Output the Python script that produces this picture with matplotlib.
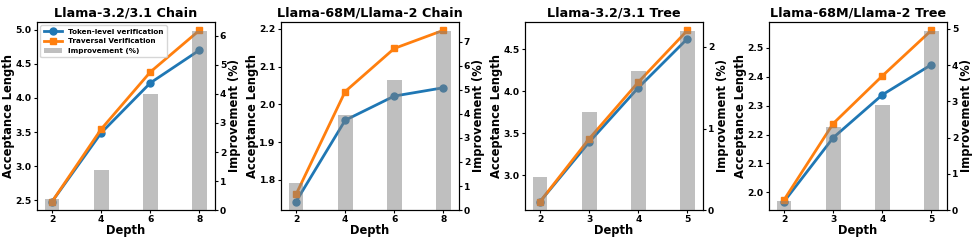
import matplotlib
matplotlib.use("Agg")
import matplotlib.pyplot as plt
from matplotlib.ticker import MultipleLocator
import numpy as np

# === DATA ===
titles = ["Llama-3.2/3.1 Chain", "Llama-68M/Llama-2 Chain",
          "Llama-3.2/3.1 Tree", "Llama-68M/Llama-2 Tree"]
depths = [[2, 4, 6, 8], [2, 4, 6, 8], [2, 3, 4, 5], [2, 3, 4, 5]]

token_level = [
    [2.485, 3.49, 4.22, 4.70],
    [1.743, 1.958, 2.022, 2.044],
    [2.69, 3.397, 4.044, 4.627],
    [1.968, 2.189, 2.3375, 2.442],
]
traversal = [
    [2.485, 3.545, 4.38, 4.99],
    [1.762, 2.034, 2.148, 2.196],
    [2.69, 3.437, 4.11, 4.726],
    [1.974, 2.238, 2.403, 2.561],
]
improvement = [
    [0.38, 1.38, 3.99, 6.18],
    [1.14, 3.96, 5.40, 7.46],
    [0.40, 1.20, 1.70, 2.20],
    [0.25, 2.29, 2.89, 4.95],
]

# tick spacing for left axis of each panel
left_step = [0.5, 0.1, 0.5, 0.1]

# === PLOT ===
fig = plt.figure(figsize=(9.77, 2.44), dpi=100)
lefts = [0.0375, 0.2872, 0.537, 0.7867]
TICK_FS = 6.6
LABEL_FS = 8.3

for i in range(4):
    ax = fig.add_axes([lefts[i], 0.139, 0.1825, 0.772])
    x = np.arange(len(depths[i]))
    l1, = ax.plot(x, token_level[i], color="#1f77b4", marker="o", markersize=5,
                  linewidth=2, label="Token-level verification")
    l2, = ax.plot(x, traversal[i], color="#ff7f0e", marker="s", markersize=5,
                  linewidth=2, label="Traversal Verification")
    ax.set_xticks(x)
    ax.set_xticklabels([str(d) for d in depths[i]])
    ax.yaxis.set_major_locator(MultipleLocator(left_step[i]))
    ax.set_xlabel("Depth", fontsize=LABEL_FS, fontweight="bold", labelpad=0)
    ax.set_ylabel("Acceptance Length", fontsize=LABEL_FS, fontweight="bold", labelpad=0.5)
    ax.set_title(titles[i], fontsize=9.2, fontweight="bold", pad=4)
    for lab in ax.get_xticklabels() + ax.get_yticklabels():
        lab.set_fontweight("bold")
        lab.set_fontsize(TICK_FS)
    ax.tick_params(pad=1, length=2.5)

    ax2 = ax.twinx()
    b = ax2.bar(x, improvement[i], width=0.3, color="gray", alpha=0.5,
                label="Improvement (%)")
    ax2.set_ylim(0, max(improvement[i]) * 1.05)
    ax2.yaxis.set_major_locator(MultipleLocator(1))
    ax2.set_ylabel("Improvement (%)", fontsize=LABEL_FS, fontweight="bold", labelpad=1)
    for lab in ax2.get_yticklabels():
        lab.set_fontweight("bold")
        lab.set_fontsize(TICK_FS)
    ax2.tick_params(pad=1, length=2.5)

    if i == 0:
        ax.legend(handles=[l1, l2, b], loc="upper left",
                  prop={"size": 5.2, "weight": "bold"},
                  borderpad=0.5, labelspacing=0.45, handlelength=2.5)

plt.savefig("out.png", dpi=100)
